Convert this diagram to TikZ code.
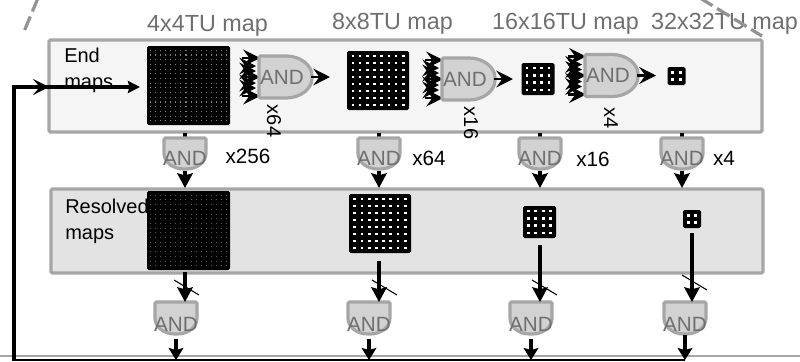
\documentclass[tikz,border=0pt]{standalone}
\usepackage{fontspec}
\setmainfont{Liberation Sans}
\usetikzlibrary{arrows.meta, calc, positioning}
\definecolor{panelgray}{HTML}{A6A6A6}
\definecolor{textgray}{HTML}{6F6F6F}
\begin{document}
\begin{tikzpicture}[x=0.75pt,y=-0.75pt,>=Stealth,
   panel/.style={draw=panelgray,line width=2.4pt,rounded corners=1pt},
   mapbox/.style={fill=black,rounded corners=1.2pt,inner sep=0pt,outer sep=0pt},
   gatebox/.style={draw=panelgray,fill=gray!35,line width=2.4pt,rounded corners=1pt},
   wire/.style={line width=2.3pt,-{Stealth[length=11pt,width=11.5pt,inset=1.5pt]}},
   barb/.style={line width=2.2pt,-{Stealth[length=12.5pt,width=12.5pt,inset=4.5pt]}},
   slash/.style={line width=0.8pt},
   head/.style={font=\fontsize{17.5}{20}\selectfont,text=textgray,inner sep=0pt},
   andlabel/.style={font=\fontsize{15.5}{18}\selectfont,text=textgray,inner sep=0pt},
   mult/.style={font=\fontsize{15.5}{18}\selectfont,inner sep=0pt},
   multrot/.style={font=\fontsize{15}{16}\selectfont,inner sep=0pt,rotate=-90},
   side/.style={font=\fontsize{15}{19}\selectfont,inner sep=0pt,align=left,anchor=north west},
   dashline/.style={draw=gray!85,line width=2.4pt,dash pattern=on 11pt off 4pt}]
  \useasboundingbox (0,0) rectangle (800,361);
  % dashed outline pieces
  \coordinate (dl1) at (38,-2);
  \coordinate (dl2) at (23,34);
  \coordinate (dr1) at (700,-2);
  \coordinate (dr2) at (762,36);
  \draw[dashline] (dl1) -- (dl2);
  % panels
  \draw[panel,fill=black!4] (49,40) rectangle (762,132);
  \draw[panel,fill=black!11] (51,189) rectangle (763,273);
  % titles
  \node[head] (t4) at (207.5,26) {4x4TU map};
  \node[head] (t8) at (392.5,24) {8x8TU map};
  \node[head] (t16) at (565.5,24) {16x16TU map};
  \node[head] (t32) at (724.5,24) {32x32TU map};
  \draw[dashline] (dr1) -- (dr2);
  % panel names
  \node[side] (endname) at (64,48) {End\\maps};
  \node[side] (resname) at (65,199) {Resolved\\maps};
  % maps with their dots
  \foreach \nm/\cx/\cy/\w/\h/\n/\px/\py/\ds/\dc in {
      e4/188.5/85.5/83/79/16/5.1/4.7/1.1/gray,
      e8/378/80.5/62/59/8/7.2/7/2.6/white,
      e16/538/79/33/32/4/7.3/7.3/2.6/white,
      e32/676.5/76/18/18/2/7.6/7.6/2.8/white,
      r4/188.5/230.5/83/79/16/5.1/4.7/1/gray!70!black,
      r8/380/223.5/62/59/8/7.2/7/2.8/white,
      r16/539.5/222/33/32/4/7.3/7.3/2.8/white,
      r32/692/219/18/18/2/7.6/7.6/2.8/white} {
    \node[mapbox,minimum width=0.75*\w pt,minimum height=0.75*\h pt] (\nm) at (\cx,\cy) {};
    \pgfmathsetmacro{\last}{int(\n-1)}
    \foreach \i in {0,...,\last} \foreach \j in {0,...,\last}
      \fill[\dc] ($(\nm)+({(\i-\last/2)*\px-\ds/2},{(\j-\last/2)*\py-\ds/2})$) rectangle ++(\ds,\ds);
  }
  % side gates in the end panel
  \coordinate (g1) at (259,77);
  \coordinate (g2) at (442,79);
  \coordinate (g3) at (585,75.5);
  \foreach \g in {g1,g2,g3} {
    \foreach \dy in {-11,-6,6,11}
      \draw[barb,line width=1.6pt] ($(\g)+(-16,\dy)$) -- ($(\g)+(-3,\dy)$);
    \foreach \dy in {-19,0,19}
      \draw[barb] ($(\g)+(-17,\dy)$) -- ($(\g)+(1,\dy)$);
    \draw[gatebox] ($(\g)+(0,-21)$) -- ++(26,0) .. controls +(15,0) and +(0,-12) .. ++(27,21)
        .. controls +(0,12) and +(15,0) .. ++(-27,21) -- ++(-26,0) -- cycle;
    \draw[barb] ($(\g)+(52,0)$) -- ($(\g)+(71,0)$);
    \node[andlabel] at ($(\g)+(23,0)$) {AND};
  }
  % multipliers
  \node[multrot] (m64) at (274,121) {x64};
  \node[multrot] (m16) at (471,123) {x16};
  \node[multrot] (m4) at (611,118) {x4};
  \node[mult] (x256) at (248,156) {x256};
  \node[mult] (x64) at (429,158) {x64};
  \node[mult] (x16) at (593,159) {x16};
  \node[mult] (x4) at (724,158) {x4};
  % gates between the panels
  \foreach \nm/\cx/\px in {a1/185/e4,a2/379/e8,a3/540/e16,a4/682/e32} {
    \coordinate (\nm) at (\cx,138);
    \coordinate (\nm s) at (\cx,132.5);
    \coordinate (\nm t) at (\cx,188);
    \draw[line width=3.4pt] (\nm s) -- ++(0,6);
    \draw[gatebox] ($(\nm)+(-21,0)$) -- ++(42,0) -- ++(0,14) .. controls +(0,10) and +(12,0) .. ++(-21,17)
        .. controls +(-12,0) and +(0,10) .. ++(-21,-17) -- cycle;
    \node[andlabel] (\nm l) at ($(\nm)+(0,20)$) {AND};
    \draw[wire] ($(\nm)+(0,33)$) -- (\nm t);
  }
  % gates under the resolved panel
  \foreach \nm/\cx/\ax/\ay/\lx/\ly in {b1/176/185/272/174/280,b2/369/379/261/372/280,
                                     b3/531/540/245/532/280,b4/685/692/233/682/275} {
    \coordinate (\nm) at (\cx,302);
    \coordinate (\nm a) at (\ax,\ay);
    \coordinate (\nm t) at (\ax,302);
    \coordinate (\nm c) at (\lx,\ly);
    \draw[gatebox] ($(\nm)+(-21,0)$) -- ++(42,0) -- ++(0,15) .. controls +(0,10) and +(12,0) .. ++(-21,17)
        .. controls +(-12,0) and +(0,10) .. ++(-21,-17) -- cycle;
    \node[andlabel] (\nm l) at ($(\nm)+(0,22)$) {AND};
    \draw[wire] (\nm a) -- (\nm t);
    \draw[slash] (\nm c) -- ++(25,15);
  }
  % bottom bus
  \coordinate (busl) at (0,356);
  \coordinate (busr) at (800,356);
  \draw[panelgray,line width=1.2pt] (busl) -- (busr);
  \foreach \nm/\cy in {b1/339,b2/339,b3/339,b4/335} {
    \coordinate (\nm o) at ($(\nm)+(0,\cy-302)$);
    \coordinate (\nm e) at ($(\nm)+(0,58)$);
    \draw[line width=2.3pt,-{Stealth[length=9pt,width=11pt,inset=1.5pt]}] (\nm o) -- (\nm e);
  }
  % feedback line
  \coordinate (fb0) at (14,361);
  \coordinate (fb1) at (14,87);
  \coordinate (fb2) at (49,87);
  \coordinate (fb3) at (140,87);
  \coordinate (fbr) at (685,359.5);
  \draw[line width=1.5pt] (fb0 |- fbr) -- (fbr);
  \draw[line width=2.3pt] (fb0) -- (fb1) -- (fb2);
  \draw[line width=2.3pt,-{Stealth[length=12pt,width=12pt,inset=5pt]}] (fb1) -- (fb2);
  \draw[wire,-{Stealth[length=9pt,width=9pt,inset=1pt]}] (fb2) -- (fb3);
\end{tikzpicture}
\end{document}
